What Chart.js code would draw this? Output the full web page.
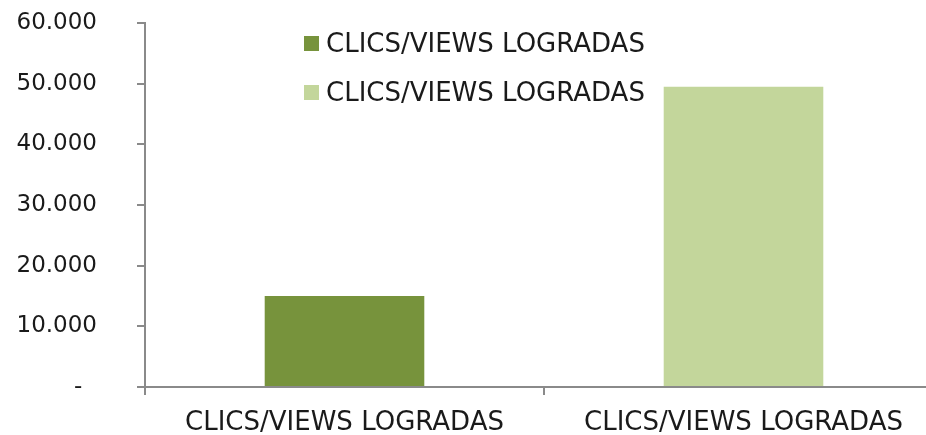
<!DOCTYPE html>
<html>
<head>
<meta charset="utf-8">
<script src="https://cdn.jsdelivr.net/npm/chart.js@4"></script>
<style>
  html, body { margin: 0; padding: 0; background: #fff; overflow: hidden; width: 926px; height: 435px; }
  #wrap { position: absolute; left: 0; top: 0; width: 943px; height: 435px; }
  #legend { position: absolute; left: 304px; top: 0; font-family: "DejaVu Sans", sans-serif; font-size: 26px; color: #1a1a1a; }
  .row { position: absolute; left: 0; height: 30px; display: flex; align-items: center; white-space: nowrap; }
  .sw { width: 15px; height: 15px; margin-right: 7px; flex: none; }
</style>
</head>
<body>
<div id="wrap"><canvas id="c"></canvas></div>
<div id="legend"></div>
<script>
const categories = ['CLICS/VIEWS LOGRADAS', 'CLICS/VIEWS LOGRADAS'];
const seriesLabels = ['CLICS/VIEWS LOGRADAS', 'CLICS/VIEWS LOGRADAS'];
const series1 = [15000, null];
const series2 = [null, 49500];
const seriesColors = ['#77933C', '#C3D69B'];
const yTicks = [0, 10000, 20000, 30000, 40000, 50000, 60000];

const axisColor = '#8a8a8a';
const fmt = v => v === 0 ? '-  ' : String(v).replace(/\B(?=(\d{3})+(?!\d))/g, '.');
const zeroPad = s => { s.paddingTop = 0; s.paddingBottom = 0; s.paddingLeft = 0; s.paddingRight = 0; };

const chart = new Chart(document.getElementById('c'), {
  type: 'bar',
  data: {
    labels: categories,
    datasets: [
      { label: seriesLabels[0], data: series1, backgroundColor: seriesColors[0] },
      { label: seriesLabels[1], data: series2, backgroundColor: seriesColors[1] }
    ]
  },
  options: {
    responsive: true,
    maintainAspectRatio: false,
    animation: false,
    layout: { padding: { top: 23, right: 0, bottom: 0, left: 0 } },
    barPercentage: 0.4,
    categoryPercentage: 1,
    plugins: { legend: { display: false }, tooltip: { enabled: false } },
    scales: {
      x: {
        stacked: true,
        offset: true,
        grid: { offset: true, drawOnChartArea: false, drawTicks: true, tickLength: 8, color: axisColor, lineWidth: 2 },
        border: { color: axisColor, width: 2 },
        ticks: { color: '#1a1a1a', padding: 13, maxRotation: 0, font: { family: 'DejaVu Sans', size: 26 } },
        afterFit: s => { s.height = 48; zeroPad(s); }
      },
      y: {
        stacked: true,
        min: yTicks[0],
        max: yTicks[yTicks.length - 1],
        afterBuildTicks: s => { s.ticks = yTicks.map(v => ({ value: v })); },
        grid: { drawOnChartArea: false, drawTicks: true, tickLength: 8, color: axisColor, lineWidth: 2 },
        border: { color: axisColor, width: 2 },
        ticks: { color: '#1a1a1a', padding: 40, font: { family: 'DejaVu Sans', size: 23 }, callback: v => fmt(v) },
        afterFit: s => { s.width = 145; zeroPad(s); }
      }
    }
  }
});

const legend = document.getElementById('legend');
const rowTops = [28, 77];
chart.data.datasets.forEach((ds, i) => {
  const row = document.createElement('div');
  row.className = 'row';
  row.style.top = rowTops[i] + 'px';
  const sw = document.createElement('span');
  sw.className = 'sw';
  sw.style.background = ds.backgroundColor;
  const t = document.createElement('span');
  t.textContent = ds.label;
  row.appendChild(sw); row.appendChild(t);
  legend.appendChild(row);
});
</script>
</body>
</html>
